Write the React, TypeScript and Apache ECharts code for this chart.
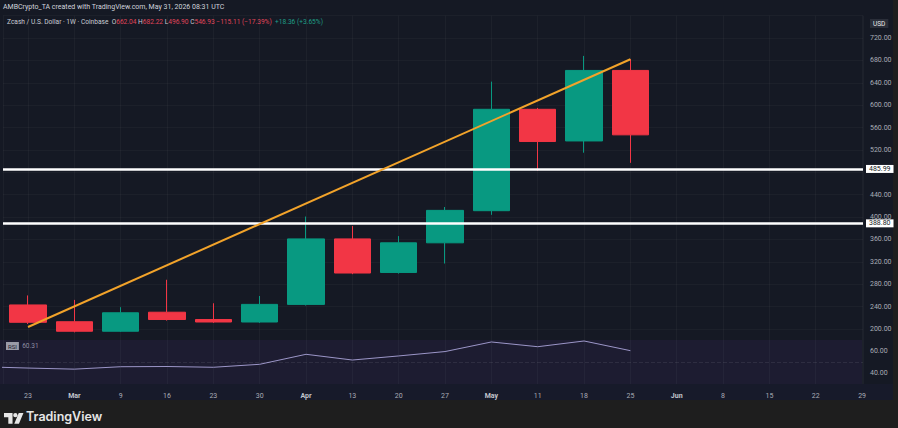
import React, { useEffect, useRef } from 'react';
import * as echarts from 'echarts';

// ---- data ----
const weekLabels = ['23', 'Mar', '9', '16', '23', '30', 'Apr', '13', '20', '27', 'May', '11', '18', '25', 'Jun', '8', '15', '22', '29'];
const monthLabels = ['Mar', 'Apr', 'May', 'Jun'];
const opens = [243, 213, 196, 230, 217, 212.5, 244, 361, 301, 354, 411.4, 592.6, 536, 662.04];
const closes = [212, 196, 229, 217, 212.5, 244, 361, 300, 354, 412, 592.6, 535, 662.04, 546.93];
const lows = [209, 194, 195, 215, 211, 211, 242, 298, 299, 317, 404, 483, 515, 496.9];
const highs = [260, 252, 239, 288, 246, 259, 401, 384, 366, 418, 642, 595, 688, 682.22];
// RSI from the week before the first visible candle (index -1) up to the last candle
const rsiValues = [45.7, 44.5, 43.5, 45.7, 45.9, 45.2, 47.9, 57.0, 51.8, 55.5, 59.5, 68.2, 63.9, 69.1, 60.31];
const trendLine = [[0, 203.6], [13, 682]];
const supportLevels = [485.99, 388.8];
const lastPrice = 546.93;
const priceTicks = [200, 240, 280, 320, 360, 400, 440, 520, 560, 600, 640, 680, 720];
const rsiTicks = [40, 60];

const UP = '#089981';
const DOWN = '#f23645';

const logoPath =
  'M0,0 H9.5 V12 H4.8 V4.6 H0 Z M10.2,2.4 A2.4,2.4 0 1,0 15,2.4 A2.4,2.4 0 1,0 10.2,2.4 Z M16.4,0 H21.6 L16.6,12 H11.4 Z';

export default function App() {
  const ref = useRef<HTMLDivElement>(null);
  useEffect(() => {
    if (!ref.current) return;
    try {
      echarts.graphic.registerShape('tvlogo', echarts.graphic.extendPath(logoPath, {}) as any);
    } catch (e) {}
    const chart = echarts.init(ref.current, null, { renderer: 'svg' });
    const font = 'Roboto, "Noto Sans", sans-serif';
    const candleData = opens.map((o, i) => [i, o, closes[i], lows[i], highs[i]]);
    const rsiData = rsiValues.map((v, i) => [i - 1, v]);
    const lastO = opens[opens.length - 1];
    const lastC = closes[closes.length - 1];
    const chg = lastC - lastO;
    const pct = (chg / lastO) * 100;
    const fmtSigned = (v: number) => (v < 0 ? '\u2212' : '+') + Math.abs(v).toFixed(2);
    const weekLabel = (v: number) => {
      if (Math.abs(v - Math.round(v)) > 1e-6) return '';
      const s = weekLabels[Math.round(v)];
      if (!s) return '';
      return monthLabels.includes(s) ? `{b|${s}}` : s;
    };
    const xMin = -0.54;
    const xMax = 18.02;

    chart.setOption({
      animation: false,
      backgroundColor: '#1e1e1e',
      textStyle: { fontFamily: font },
      graphic: [
        { type: 'rect', z: -10, shape: { x: 0, y: 0, width: 893, height: 400 }, style: { fill: '#151924' } },
        { type: 'rect', z: -9, shape: { x: 0, y: 340, width: 862, height: 44 }, style: { fill: '#1d1c31' } },
        { type: 'rect', z: -9, shape: { x: 0, y: 384, width: 893, height: 16 }, style: { fill: '#171a2a' } },
        {
          type: 'text', left: 3, top: 3,
          style: { text: 'AMBCrypto_TA created with TradingView.com, May 31, 2026 08:31 UTC', fill: '#d1d4dc', font: `7px ${font}` },
        },
        {
          type: 'text', left: 7, top: 18,
          style: {
            text:
              `{g|Zcash / U.S. Dollar · 1W · Coinbase}  {g|O}{r|${lastO.toFixed(2)}} {g|H}{r|${highs[13].toFixed(2)}} {g|L}{r|${lows[13].toFixed(2)}} {g|C}{r|${lastC.toFixed(2)}} {r|${fmtSigned(chg)} (${fmtSigned(pct)}%)}  {u|+18.36 (+3.65%)}`,
            font: `6.6px ${font}`,
            rich: {
              g: { fill: '#c9ccd4', font: `6.6px ${font}` },
              r: { fill: '#e0455a', font: `6.6px ${font}` },
              u: { fill: '#1f9e86', font: `6.6px ${font}` },
            },
          },
        },
        {
          type: 'text', left: 870, top: 19,
          style: { text: 'USD', fill: '#e8e8e8', font: `6.5px ${font}`, backgroundColor: '#2a2e39', padding: [1, 3] },
        },
        {
          type: 'text', left: 6, top: 340,
          style: {
            text: '{a|RSI} {b|60.31}',
            rich: {
              a: { fill: '#1e1e30', backgroundColor: '#9a9aa8', font: `6px ${font}`, padding: [1, 2] },
              b: { fill: '#8f8fa3', font: `6.5px ${font}` },
            },
          },
        },
        { type: 'tvlogo', x: 4, y: 413, scaleX: 0.9, scaleY: 0.9, style: { fill: '#e6e6e6' } },
        {
          type: 'text', left: 26, top: 410,
          style: { text: 'TradingView', fill: '#e6e6e6', font: `600 12.5px Inter, ${font}` },
        },
      ],
      grid: [
        { left: 3, right: 35, top: 15.6, height: 324.6 },
        { left: 3, right: 35, top: 340, height: 44 },
      ],
      xAxis: [
        {
          type: 'value', gridIndex: 0, min: xMin, max: xMax, splitNumber: 19,
          axisLine: { show: false }, axisTick: { show: false }, axisLabel: { show: false },
          splitLine: { show: true, lineStyle: { color: 'rgba(255,255,255,0.035)', width: 1 } },
        },
        {
          type: 'value', gridIndex: 1, min: xMin, max: xMax, splitNumber: 19,
          axisLine: { show: false }, axisTick: { show: false },
          splitLine: { show: true, lineStyle: { color: 'rgba(255,255,255,0.035)', width: 1 } },
          axisLabel: {
            show: true, margin: 8, color: '#a9acb6', fontSize: 7,
            formatter: weekLabel,
            rich: { b: { fontWeight: 'bold', fontSize: 7, color: '#c3c6ce' } },
          },
        },
      ],
      yAxis: [
        {
          type: 'value', gridIndex: 0, position: 'right', min: 180, max: 760, interval: 20,
          axisLine: { show: false }, axisTick: { show: false },
          splitLine: { show: true, lineStyle: { color: ['rgba(0,0,0,0)', 'rgba(255,255,255,0.03)'] } },
          axisLabel: {
            margin: 7, color: '#a9acb6', fontSize: 7,
            formatter: (v: number) => (priceTicks.includes(v) ? v.toFixed(2) : ''),
          },
        },
        {
          type: 'value', gridIndex: 1, position: 'right', min: 30, max: 70, interval: 10,
          axisLine: { show: false }, axisTick: { show: false }, splitLine: { show: false },
          axisLabel: {
            margin: 7, color: '#a9acb6', fontSize: 7,
            formatter: (v: number) => (rsiTicks.includes(v) ? v.toFixed(2) : ''),
          },
        },
      ],
      series: [
        {
          type: 'candlestick', xAxisIndex: 0, yAxisIndex: 0,
          data: candleData, encode: { x: 0, y: [1, 2, 3, 4] },
          barWidth: 37,
          itemStyle: { color: UP, color0: DOWN, borderColor: UP, borderColor0: DOWN, borderWidth: 1 },
        },
        {
          type: 'line', xAxisIndex: 0, yAxisIndex: 0, data: trendLine, symbol: 'none',
          lineStyle: { color: '#f2a32a', width: 2 }, z: 5,
          markLine: {
            silent: true, symbol: 'none',
            data: [
              ...supportLevels.map((v) => ({
                yAxis: v,
                lineStyle: { color: '#ffffff', width: 2.5, type: 'solid' },
                label: {
                  show: true, position: 'end', distance: 3, formatter: v.toFixed(2),
                  color: '#131722', backgroundColor: '#ffffff', fontSize: 7, padding: [1, 3, 0, 3],
                },
              })),
              {
                yAxis: lastPrice,
                lineStyle: { color: DOWN, width: 0, opacity: 0 },
                label: {
                  show: true, position: 'end', distance: 4, formatter: lastPrice.toFixed(2),
                  color: '#ffffff', backgroundColor: DOWN, fontSize: 7, padding: [2, 3, 1, 3],
                },
              },
            ],
          },
        },
        {
          type: 'line', xAxisIndex: 1, yAxisIndex: 1, data: rsiData, symbol: 'none',
          lineStyle: { color: '#9c96c8', width: 1 },
          markLine: {
            silent: true, symbol: 'none', label: { show: false },
            data: [{ yAxis: 50, lineStyle: { color: 'rgba(255,255,255,0.08)', type: 'dashed', width: 1 } }],
          },
        },
      ],
    });
    return () => chart.dispose();
  }, []);
  return <div ref={ref} style={{ position: 'fixed', left: 0, top: 0, width: 898, height: 428 }} />;
}
